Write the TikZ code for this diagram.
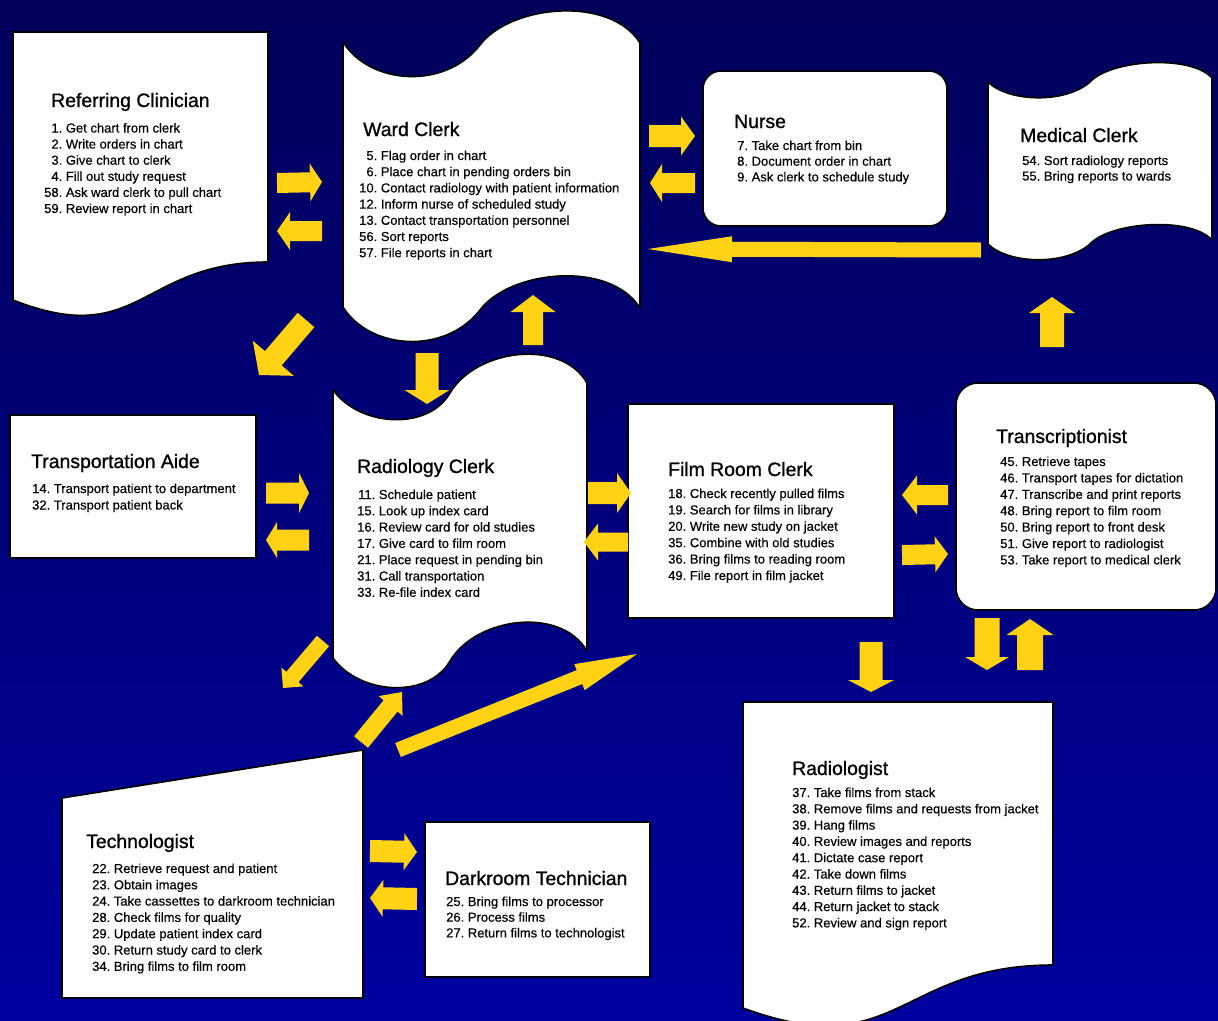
\documentclass[tikz,border=0pt]{standalone}
\usepackage{fontspec}
\setmainfont{Liberation Sans}
\usetikzlibrary{calc}
\definecolor{bgtop}{RGB}{0,0,90}
\definecolor{bgbot}{RGB}{0,0,158}
\definecolor{arrowy}{RGB}{255,210,20}
\tikzset{
  boxshape/.style={fill=white, draw=black, line width=1.6pt, line join=round},
  roletitle/.style={anchor=base west, inner sep=0pt, font=\fontsize{19.4}{22}\selectfont\addfontfeatures{FakeBold=1}},
  roleitems/.style={anchor=base west, inner sep=0pt, font=\fontsize{13}{#1}\selectfont\addfontfeatures{FakeBold=0.4}},
  roleitems/.default=16.3,
  arrowfill/.style={fill=arrowy},
}
% block arrow: #1 tail coordinate, #2 tip coordinate, #3 shaft half width, #4 head half width, #5 head length
\newcommand\blockarrow[5]{%
  \coordinate (hb) at ($(#2)!#5!(#1)$);
  \fill[arrowfill] ($(#1)!#3!90:(#2)$) -- ($(hb)!#3!-90:(#1)$) -- ($(hb)!#4!-90:(#1)$) -- (#2)
    -- ($(hb)!#4!90:(#1)$) -- ($(hb)!#3!90:(#1)$) -- ($(#1)!#3!-90:(#2)$) -- cycle;}
\begin{document}
\begin{tikzpicture}[x=1pt,y=-1pt]
\useasboundingbox (0,0) rectangle (1218,1020);
\clip (0,0) rectangle (1218,1020);
\shade[top color=bgtop,bottom color=bgbot] (0,0) rectangle (1218,1020);

% ---------- shapes ----------
% Referring Clinician (document)
\draw[boxshape] (13,32) -- (268,32) -- (268,262) .. controls (140,262) and (140,350) .. (13,300) -- cycle;
% Ward Clerk (tape)
\draw[boxshape] (343,42) .. controls (370,85) and (445,90) .. (480,45) .. controls (510,5) and (610,-5) .. (640,43)
  -- (640,308) .. controls (610,260) and (510,270) .. (480,310) .. controls (445,355) and (370,350) .. (343,307) -- cycle;
% Nurse
\draw[boxshape, rounded corners=18pt] (703,71) rectangle (947,226);
% Medical Clerk (tape)
\draw[boxshape] (988,82) .. controls (1008,102) and (1065,104) .. (1090,82) .. controls (1110,60) and (1190,54) .. (1212,78)
  -- (1212,240) .. controls (1190,216) and (1110,222) .. (1090,244) .. controls (1065,266) and (1008,264) .. (988,244) -- cycle;
% Transportation Aide
\draw[boxshape] (10,415) rectangle (256,558);
% Radiology Clerk (tape)
\draw[boxshape] (333,390) .. controls (360,427) and (428,431) .. (450,393) .. controls (476,349) and (561,338) .. (587,383)
  -- (587,651) .. controls (561,606) and (476,617) .. (450,661) .. controls (428,699) and (360,695) .. (333,658) -- cycle;
% Film Room Clerk
\draw[boxshape] (628,404) rectangle (894,618);
% Transcriptionist
\draw[boxshape, rounded corners=22pt] (956,383) rectangle (1216,610);
% Radiologist (document)
\draw[boxshape] (743,702) -- (1053,702) -- (1053,965) .. controls (898,965) and (898,1065) .. (743,1008) -- cycle;
% Technologist
\draw[boxshape] (62,798) -- (363,750) -- (363,998) -- (62,998) -- cycle;
% Darkroom Technician
\draw[boxshape] (425,822) rectangle (650,977);

% ---------- arrows ----------
\coordinate (a1s) at (277,183);  \coordinate (a1e) at (322,182);
\coordinate (a2s) at (322,231);  \coordinate (a2e) at (277,231);
\coordinate (a3s) at (649,136);  \coordinate (a3e) at (695,136);
\coordinate (a4s) at (695,183);  \coordinate (a4e) at (650,183);
\coordinate (a5s) at (981,250);  \coordinate (a5e) at (648,249);
\coordinate (a6s) at (1052,347); \coordinate (a6e) at (1052,297);
\coordinate (a7s) at (533,345);  \coordinate (a7e) at (533,295);
\coordinate (a8s) at (427,353);  \coordinate (a8e) at (427,404);
\coordinate (a9s) at (306,320);  \coordinate (a9e) at (259,375);
\coordinate (a10s) at (266,493); \coordinate (a10e) at (309,493);
\coordinate (a11s) at (309,540); \coordinate (a11e) at (266,540);
\coordinate (a12s) at (588,493); \coordinate (a12e) at (631,493);
\coordinate (a13s) at (628,542); \coordinate (a13e) at (584,542);
\coordinate (a14s) at (948,495); \coordinate (a14e) at (902,495);
\coordinate (a15s) at (902,555); \coordinate (a15e) at (948,554);
\coordinate (a16s) at (871,642); \coordinate (a16e) at (871,692);
\coordinate (a17s) at (987,618); \coordinate (a17e) at (987,670);
\coordinate (a18s) at (1030,670); \coordinate (a18e) at (1030,619);
\coordinate (a19s) at (323,641); \coordinate (a19e) at (283,688);
\coordinate (a20s) at (361,742); \coordinate (a20e) at (402,692);
\coordinate (a21s) at (398,750); \coordinate (a21e) at (637,654);
\coordinate (a22s) at (370,851); \coordinate (a22e) at (417,852);
\coordinate (a23s) at (417,899); \coordinate (a23e) at (370,898);

\blockarrow{a1s}{a1e}{10pt}{19pt}{12pt}
\blockarrow{a2s}{a2e}{10pt}{19pt}{13pt}
\blockarrow{a3s}{a3e}{11pt}{19.5pt}{14pt}
\blockarrow{a4s}{a4e}{10pt}{19pt}{12pt}
\blockarrow{a5s}{a5e}{7.5pt}{13pt}{84pt}
\blockarrow{a6s}{a6e}{12pt}{23pt}{16pt}
\blockarrow{a7s}{a7e}{10pt}{22.5pt}{17pt}
\blockarrow{a8s}{a8e}{11.5pt}{22.5pt}{14pt}
\blockarrow{a9s}{a9e}{11pt}{27pt}{22pt}
\blockarrow{a10s}{a10e}{10.5pt}{20pt}{10pt}
\blockarrow{a11s}{a11e}{10.5pt}{18pt}{11pt}
\blockarrow{a12s}{a12e}{11pt}{20pt}{14pt}
\blockarrow{a13s}{a13e}{9.5pt}{18.5pt}{14pt}
\blockarrow{a14s}{a14e}{10pt}{19.5pt}{15pt}
\blockarrow{a15s}{a15e}{10pt}{18pt}{13pt}
\blockarrow{a16s}{a16e}{11.5pt}{23pt}{12pt}
\blockarrow{a17s}{a17e}{12.5pt}{22pt}{13pt}
\blockarrow{a18s}{a18e}{13pt}{23.5pt}{16pt}
\blockarrow{a19s}{a19e}{8pt}{14.5pt}{14.5pt}
\blockarrow{a20s}{a20e}{9pt}{15.5pt}{18pt}
\blockarrow{a21s}{a21e}{7.5pt}{14pt}{62pt}
\blockarrow{a22s}{a22e}{11pt}{18.5pt}{13pt}
\blockarrow{a23s}{a23e}{11pt}{18.5pt}{13pt}

% ---------- texts ----------
\node[roletitle] (rcT) at (51,107) {Referring Clinician};
\node[roleitems=16.1] (rcI) at (44,132.5) {\begin{tabular}[t]{@{}r@{\ }l@{}}
1.&Get chart from clerk\\ 2.&Write orders in chart\\ 3.&Give chart to clerk\\
4.&Fill out study request\\ 58.&Ask ward clerk to pull chart\\ 59.&Review report in chart\end{tabular}};

\node[roletitle] (wcT) at (363,136) {Ward Clerk};
\node[roleitems=16.2] (wcI) at (359,160) {\begin{tabular}[t]{@{}r@{\ }l@{}}
5.&Flag order in chart\\ 6.&Place chart in pending orders bin\\
10.&Contact radiology with patient information\\ 12.&Inform nurse of scheduled study\\
13.&Contact transportation personnel\\ 56.&Sort reports\\ 57.&File reports in chart\end{tabular}};

\node[roletitle] (nuT) at (734,128) {Nurse};
\node[roleitems=15.7] (nuI) at (737,150) {\begin{tabular}[t]{@{}r@{\ }l@{}}
7.&Take chart from bin\\ 8.&Document order in chart\\ 9.&Ask clerk to schedule study\end{tabular}};

\node[roletitle] (mcT) at (1020,142) {Medical Clerk};
\node[roleitems=15.5] (mcI) at (1022,165) {\begin{tabular}[t]{@{}r@{\ }l@{}}
54.&Sort radiology reports\\ 55.&Bring reports to wards\end{tabular}};

\node[roletitle] (taT) at (31,468) {Transportation Aide};
\node[roleitems=16.5] (taI) at (32,493) {\begin{tabular}[t]{@{}r@{\ }l@{}}
14.&Transport patient to department\\ 32.&Transport patient back\end{tabular}};

\node[roletitle] (rdT) at (357,473) {Radiology Clerk};
\node[roleitems=16.3] (rdI) at (357,499) {\begin{tabular}[t]{@{}r@{\ }l@{}}
11.&Schedule patient\\ 15.&Look up index card\\ 16.&Review card for old studies\\
17.&Give card to film room\\ 21.&Place request in pending bin\\ 31.&Call transportation\\
33.&Re-file index card\end{tabular}};

\node[roletitle] (frT) at (668,476) {Film Room Clerk};
\node[roleitems=16.4] (frI) at (668,498) {\begin{tabular}[t]{@{}r@{\ }l@{}}
18.&Check recently pulled films\\ 19.&Search for films in library\\ 20.&Write new study on jacket\\
35.&Combine with old studies\\ 36.&Bring films to reading room\\ 49.&File report in film jacket\end{tabular}};

\node[roletitle] (trT) at (996,443) {Transcriptionist};
\node[roleitems=16.4] (trI) at (1000,466) {\begin{tabular}[t]{@{}r@{\ }l@{}}
45.&Retrieve tapes\\ 46.&Transport tapes for dictation\\ 47.&Transcribe and print reports\\
48.&Bring report to film room\\ 50.&Bring report to front desk\\ 51.&Give report to radiologist\\
53.&Take report to medical clerk\end{tabular}};

\node[roletitle] (raT) at (792,775) {Radiologist};
\node[roleitems=16.3] (raI) at (792,797) {\begin{tabular}[t]{@{}r@{\ }l@{}}
37.&Take films from stack\\ 38.&Remove films and requests from jacket\\ 39.&Hang films\\
40.&Review images and reports\\ 41.&Dictate case report\\ 42.&Take down films\\
43.&Return films to jacket\\ 44.&Return jacket to stack\\ 52.&Review and sign report\end{tabular}};

\node[roletitle] (teT) at (86,848) {Technologist};
\node[roleitems=16.3] (teI) at (92,873) {\begin{tabular}[t]{@{}r@{\ }l@{}}
22.&Retrieve request and patient\\ 23.&Obtain images\\ 24.&Take cassettes to darkroom technician\\
28.&Check films for quality\\ 29.&Update patient index card\\ 30.&Return study card to clerk\\
34.&Bring films to film room\end{tabular}};

\node[roletitle] (dtT) at (445,885) {Darkroom Technician};
\node[roleitems=15.7] (dtI) at (446,906) {\begin{tabular}[t]{@{}r@{\ }l@{}}
25.&Bring films to processor\\ 26.&Process films\\ 27.&Return films to technologist\end{tabular}};
\end{tikzpicture}
\end{document}
